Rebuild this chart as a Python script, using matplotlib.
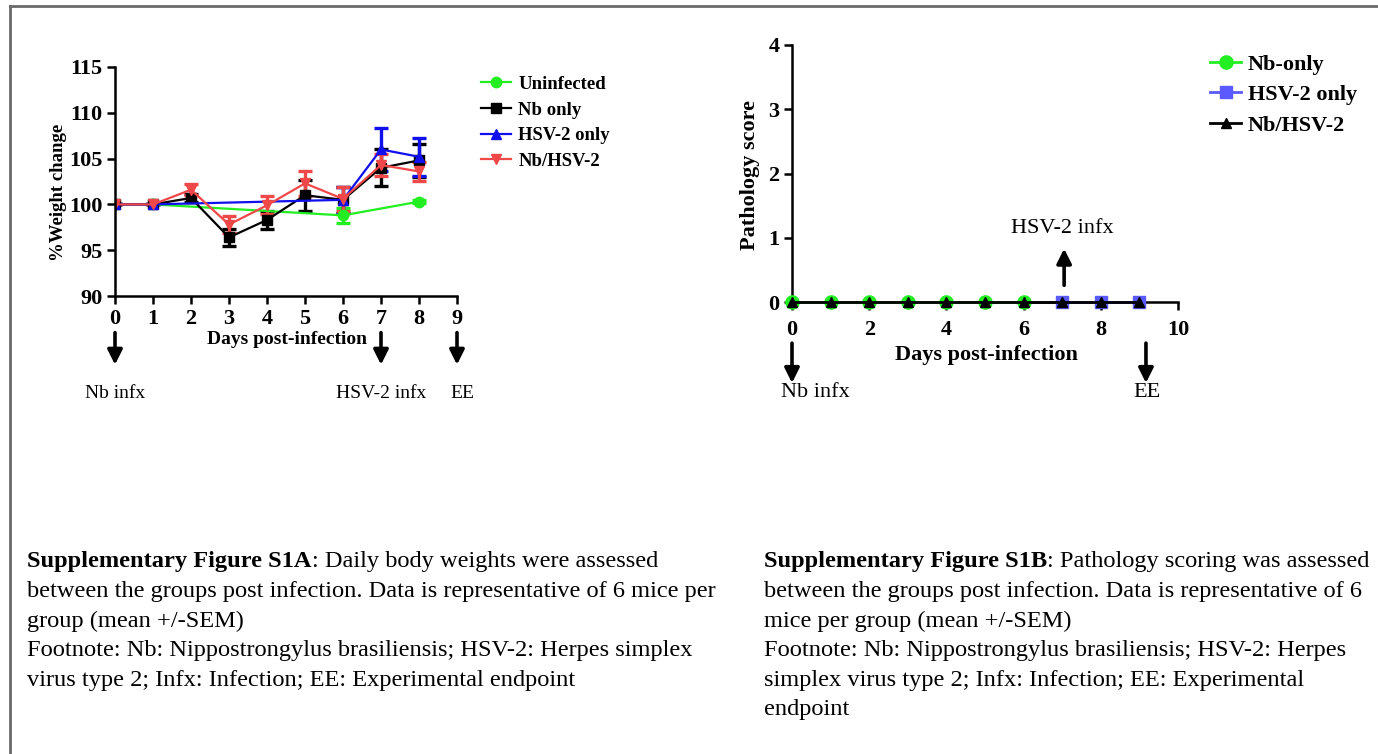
import numpy as np
import matplotlib.pyplot as plt
from matplotlib.lines import Line2D

plt.rcParams['font.family'] = ['Liberation Serif', 'DejaVu Serif']

W, H = 1378, 754

# --- panel A: % weight change ---
days = [0, 1, 2, 3, 4, 5, 6, 7, 8]
uninf_days = [0, 1, 6, 8]
uninf = [100, 100, 98.8, 100.3]
uninf_err = [0, 0, 0.8, 0.2]
nb_only = [100, 100, 100.7, 96.4, 98.3, 101.0, 100.5, 104.0, 104.8]
nb_only_err = [0, 0, 0.4, 0.9, 1.0, 1.7, 1.4, 2.0, 1.8]
hsv_days = [0, 1, 6, 7, 8]
hsv_only = [100, 100, 100.5, 106.0, 105.2]
hsv_only_err = [0, 0, 1.4, 2.3, 2.1]
nb_hsv = [100, 100, 101.6, 97.8, 99.9, 102.3, 100.6, 104.3, 103.6]
nb_hsv_err = [0, 0, 0.6, 0.9, 1.0, 1.4, 1.3, 1.2, 1.0]

# --- panel B: pathology score ---
path_nb_days = [0, 1, 2, 3, 4, 5, 6]
path_nb = [0, 0, 0, 0, 0, 0, 0]
path_hsv_days = [7, 8, 9]
path_hsv = [0, 0, 0]
path_co_days = [0, 1, 2, 3, 4, 5, 6, 7, 8, 9]
path_co = [0, 0, 0, 0, 0, 0, 0, 0, 0, 0]

caption_a = ["between the groups post infection. Data is representative of 6 mice per",
             "group (mean +/-SEM)",
             "Footnote: Nb: Nippostrongylus brasiliensis; HSV-2: Herpes simplex",
             "virus type 2; Infx: Infection; EE: Experimental endpoint"]
caption_b = ["between the groups post infection. Data is representative of 6",
             "mice per group (mean +/-SEM)",
             "Footnote: Nb: Nippostrongylus brasiliensis; HSV-2: Herpes",
             "simplex virus type 2; Infx: Infection; EE: Experimental",
             "endpoint"]

GREEN = '#22ee22'
BLUE = '#1010ee'
RED = '#f04848'
SLATE = '#5a5aff'
SERIF = 'Liberation Serif'


def px_axes(l, t, r, b):
    return fig.add_axes([l / W, 1 - b / H, (r - l) / W, (b - t) / H])


def style(ax, size):
    for s in ['top', 'right']:
        ax.spines[s].set_visible(False)
    for s in ['left', 'bottom']:
        ax.spines[s].set_linewidth(1.8)
    ax.tick_params(width=1.8, length=6, labelsize=size, pad=3)
    for lab in ax.get_xticklabels() + ax.get_yticklabels():
        lab.set_fontweight('bold')


def arrow(ax, x, y0, y1, coords=('data', 'axes fraction')):
    ax.annotate('', xy=(x, y1), xytext=(x, y0), xycoords=coords, textcoords=coords,
                annotation_clip=False,
                arrowprops=dict(arrowstyle='-|>', lw=2.6, color='k', mutation_scale=22,
                                shrinkA=0, shrinkB=0))


fig = plt.figure(figsize=(W / 100, H / 100), dpi=100)

# ---------------- panel A ----------------
ax1 = px_axes(115, 67, 457, 296)
eb = dict(lw=1.6, elinewidth=2.4, capsize=5, capthick=2.4, ms=7.5)
ax1.errorbar(uninf_days, uninf, yerr=uninf_err, color=GREEN, marker='o', **eb)
ax1.errorbar(days, nb_only, yerr=nb_only_err, color='k', marker='s', **eb)
ax1.errorbar(hsv_days, hsv_only, yerr=hsv_only_err, color=BLUE, marker='^', **eb)
ax1.errorbar(days, nb_hsv, yerr=nb_hsv_err, color=RED, marker='v', **eb)
ax1.set_xlim(0, 9)
ax1.set_ylim(90, 115)
ax1.set_xticks(range(0, 10))
ax1.set_yticks(range(90, 116, 5))
style(ax1, 16)
ax1.text(0.503, -0.192, 'Days post-infection', transform=ax1.transAxes, ha='center', va='center',
         fontsize=14, fontweight='bold')
ax1.text(-0.165, 0.454, '%Weight change', transform=ax1.transAxes, ha='center', va='center',
         rotation=90, fontsize=13.5, fontweight='bold')
for d in [0, 7, 9]:
    arrow(ax1, d, -0.16, -0.30)
xt = ax1.get_xaxis_transform()
ax1.text(0, -0.424, 'Nb infx', transform=xt, ha='center', va='center', fontsize=14)
ax1.text(7, -0.424, 'HSV-2 infx', transform=xt, ha='center', va='center', fontsize=14)
ax1.text(9.13, -0.424, 'EE', transform=xt, ha='center', va='center', fontsize=14)
handles1 = [Line2D([], [], color=GREEN, marker='o', lw=1.6, ms=7.5),
            Line2D([], [], color='k', marker='s', lw=1.6, ms=7.5),
            Line2D([], [], color=BLUE, marker='^', lw=1.6, ms=7.5),
            Line2D([], [], color=RED, marker='v', lw=1.6, ms=7.5)]
ax1.legend(handles1, ['Uninfected', 'Nb only', 'HSV-2 only', 'Nb/HSV-2'],
           loc='upper left', bbox_to_anchor=(464 / W, 1 - 59 / H), bbox_transform=fig.transFigure,
           frameon=False, handlelength=1.6, handletextpad=0.4, labelspacing=0.45,
           prop=dict(size=13.5, weight='bold'))

# ---------------- panel B ----------------
ax2 = px_axes(792, 45, 1178, 302)
ax2.plot(path_nb_days, path_nb, color=GREEN, marker='o', ms=9.5, lw=2, label='Nb-only', clip_on=False, zorder=3)
ax2.plot(path_hsv_days, path_hsv, color=SLATE, marker='s', ms=9, lw=2, label='HSV-2 only', clip_on=False, zorder=4)
ax2.plot(path_co_days, path_co, color='k', marker='^', ms=7, lw=2, label='Nb/HSV-2', clip_on=False, zorder=5)
ax2.set_xlim(0, 10)
ax2.set_ylim(0, 4)
ax2.set_xticks(range(0, 11, 2))
ax2.set_yticks(range(0, 5))
style(ax2, 16)
ax2.tick_params(axis='x', pad=7)
ax2.text(0.505, -0.206, 'Days post-infection', transform=ax2.transAxes, ha='center', va='center',
         fontsize=16, fontweight='bold')
ax2.text(-0.108, 0.494, 'Pathology score', transform=ax2.transAxes, ha='center', va='center',
         rotation=90, fontsize=16, fontweight='bold')
arrow(ax2, 0, -0.16, -0.315)
arrow(ax2, 9.17, -0.16, -0.315)
arrow(ax2, 7.05, 0.26, 0.83, coords='data')
xt2 = ax2.get_xaxis_transform()
ax2.text(0.6, -0.354, 'Nb infx', transform=xt2, ha='center', va='center', fontsize=16)
ax2.text(9.2, -0.354, 'EE', transform=xt2, ha='center', va='center', fontsize=16)
ax2.text(7.0, 1.15, 'HSV-2 infx', ha='center', va='center', fontsize=16)
ax2.legend(loc='upper left', bbox_to_anchor=(1190 / W, 1 - 34 / H), bbox_transform=fig.transFigure,
           frameon=False, handlelength=1.4, handletextpad=0.3, labelspacing=0.45,
           prop=dict(size=16, weight='bold'))

# ---------------- captions ----------------
renderer = fig.canvas.get_renderer()
CAP = 17.6


def caption(x, head, rest, lines):
    y0 = 562
    t = fig.text(x / W, 1 - y0 / H, head, fontsize=CAP, fontweight='bold', va='center', family=SERIF)
    bb = t.get_window_extent(renderer)
    fig.text(bb.x1 / W, 1 - y0 / H, rest, fontsize=CAP, va='center', family=SERIF)
    for i, ln in enumerate(lines):
        fig.text(x / W, 1 - (y0 + 29.6 * (i + 1)) / H, ln, fontsize=CAP, va='center', family=SERIF)


caption(27, 'Supplementary Figure S1A', ': Daily body weights were assessed', caption_a)
caption(764, 'Supplementary Figure S1B', ': Pathology scoring was assessed', caption_b)

# frame
fig.add_artist(Line2D([10 / W, 10 / W], [0, 1 - 6 / H], color='#6a6a6a', lw=2))
fig.add_artist(Line2D([10 / W, 1], [1 - 6 / H, 1 - 6 / H], color='#6a6a6a', lw=2))

fig.savefig('out.png', dpi=100)
